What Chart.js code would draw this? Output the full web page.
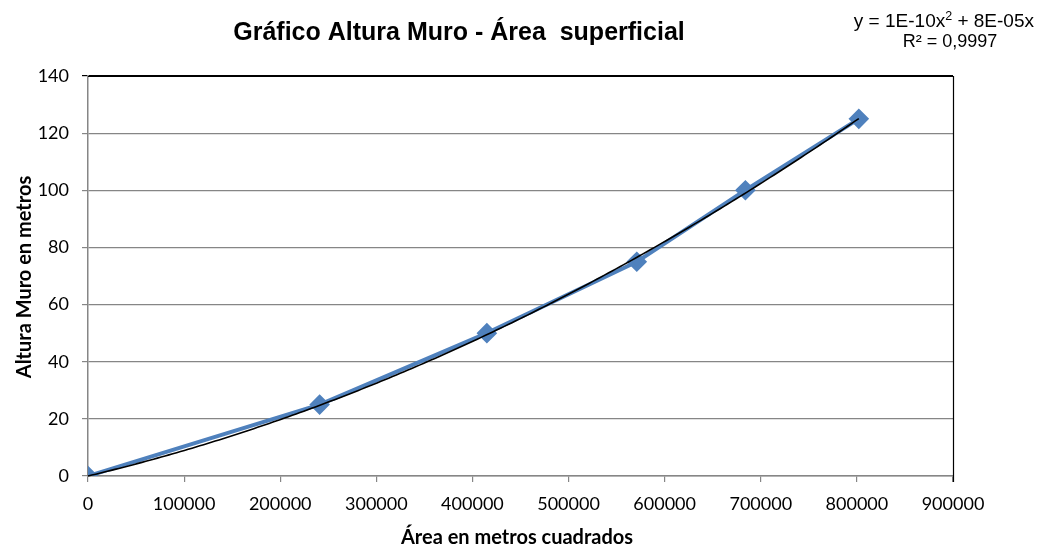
<!DOCTYPE html>
<html><head><meta charset="utf-8">
<script src="https://cdn.jsdelivr.net/npm/chart.js@4"></script>
<style>html,body{margin:0;padding:0;background:#fff}#wrap{width:1044px;height:548px}</style>
</head><body><div id="wrap"><canvas id="c" width="1044" height="548"></canvas></div>
<script>
const areas = [0, 241000, 415000, 571000, 684000, 802000];
const heights = [0, 25, 50, 75, 100, 125];
const xTicks = [0,100000,200000,300000,400000,500000,600000,700000,800000,900000];
const yTicks = [0,20,40,60,80,100,120,140];
const titleText = 'Gráfico Altura Muro - Área  superficial';
const xTitle = 'Área en metros cuadrados';
const yTitle = 'Altura Muro en metros';
const eqMain = 'y = 1E-10x';
const eqTail = ' + 8E-05x';
const r2Text = 'R² = 0,9997';

// least-squares fit y = a x^2 + b x (zero intercept), computed from data
function fit(xs, ys){
  let s4=0,s3=0,s2=0,sx2y=0,sxy=0;
  for(let i=0;i<xs.length;i++){const x=xs[i],y=ys[i];s4+=x**4;s3+=x**3;s2+=x*x;sx2y+=x*x*y;sxy+=x*y;}
  const det=s4*s2-s3*s3;
  return {a:(sx2y*s2-s3*sxy)/det, b:(s4*sxy-s3*sx2y)/det};
}
const coef = fit(areas, heights);

const data = areas.map((x,i)=>({x:x,y:heights[i]}));

const deco = {
  id:'deco',
  afterDatasetsDraw(chart){
    const ctx=chart.ctx, xs=chart.scales.x, ys=chart.scales.y;
    ctx.save();
    ctx.beginPath();
    const x0=areas[0], x1=areas[areas.length-1];
    for(let k=0;k<=200;k++){
      const xv=x0+(x1-x0)*k/200, yv=coef.a*xv*xv+coef.b*xv;
      const px=xs.getPixelForValue(xv), py=ys.getPixelForValue(yv);
      if(k===0) ctx.moveTo(px,py); else ctx.lineTo(px,py);
    }
    ctx.strokeStyle='#000'; ctx.lineWidth=1.6; ctx.stroke();
    ctx.restore();
  },
  afterDraw(chart){
    const ctx=chart.ctx, ca=chart.chartArea;
    ctx.save();
    ctx.strokeStyle='#000'; ctx.lineWidth=1.2;
    ctx.beginPath(); ctx.moveTo(ca.left, ca.top+0.5); ctx.lineTo(ca.right+0.5, ca.top+0.5); ctx.lineTo(ca.right+0.5, ca.bottom+6); ctx.stroke();
    // title
    ctx.fillStyle='#000';
    ctx.font='bold 25px "Liberation Sans", Arial, sans-serif';
    ctx.textAlign='center'; ctx.textBaseline='middle';
    ctx.fillText(titleText, 459, 33);
    // equation
    const F='19px "Liberation Sans", Arial, sans-serif', FS='12.5px "Liberation Sans", Arial, sans-serif';
    ctx.font=F; ctx.textAlign='left'; ctx.textBaseline='alphabetic';
    const wMain=ctx.measureText(eqMain).width;
    ctx.font=FS; const wSup=ctx.measureText('2').width;
    ctx.font=F; const wTail=ctx.measureText(eqTail).width;
    const total=wMain+wSup+wTail, right=1034, sx=right-total;
    ctx.fillText(eqMain, sx, 27);
    ctx.font=FS; ctx.fillText('2', sx+wMain, 20);
    ctx.font='18px "Liberation Sans", Arial, sans-serif'; ctx.font=F;
    ctx.fillText(eqTail, sx+wMain+wSup, 27);
    ctx.font='18px "Liberation Sans", Arial, sans-serif';
    ctx.textAlign='center';
    ctx.fillText(r2Text, 950, 47);
    // axis titles
    ctx.font='bold 20px Lato, "Open Sans", sans-serif';
    ctx.textAlign='center'; ctx.textBaseline='middle';
    ctx.fillText(xTitle, 517, 538);
    ctx.translate(25, 277); ctx.rotate(-Math.PI/2);
    ctx.fillText(yTitle, 0, 0);
    ctx.restore();
  }
};

new Chart(document.getElementById('c'), {
  type:'scatter',
  data:{datasets:[{
    data:data, showLine:true, borderColor:'#4F81BD', backgroundColor:'#4F81BD',
    borderWidth:4, pointStyle:'rectRot', pointRadius:7.5, pointHoverRadius:7.5, tension:0
  }]},
  options:{
    responsive:false, animation:false, devicePixelRatio:1,
    layout:{padding:{left:0,right:91,top:76,bottom:0}},
    plugins:{legend:{display:false}, tooltip:{enabled:false}, title:{display:false}},
    scales:{
      x:{type:'linear', min:0, max:900000,
        afterBuildTicks(s){s.ticks=xTicks.map(v=>({value:v}));},
        afterFit(s){s.height=72;},
        ticks:{color:'#000', font:{family:'Lato, "Open Sans", sans-serif', size:18}, padding:11, maxRotation:0, autoSkip:false,
          callback:v=>String(v)},
        grid:{display:true, drawOnChartArea:false, drawTicks:true, tickLength:6, color:'#868686', lineWidth:1.2},
        border:{display:true, color:'#868686', width:1.5}
      },
      y:{type:'linear', min:0, max:140,
        afterBuildTicks(s){s.ticks=yTicks.map(v=>({value:v}));},
        afterFit(s){s.width=88;},
        ticks:{color:'#000', font:{family:'Lato, "Open Sans", sans-serif', size:18}, padding:13},
        grid:{display:true, drawTicks:true, tickLength:6, color:c=>c.tick&&c.tick.value===140?'#000':'#868686', lineWidth:1.2},
        border:{display:true, color:'#868686', width:1.5}
      }
    }
  },
  plugins:[deco]
});
</script></body></html>
